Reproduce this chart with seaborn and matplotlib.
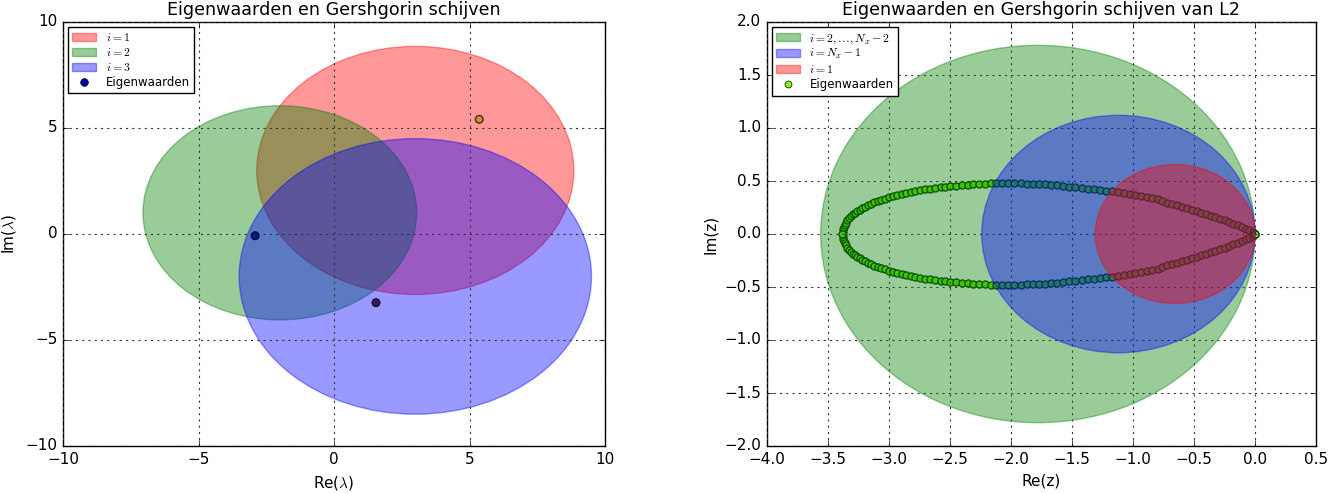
import numpy as np
import matplotlib
matplotlib.use("Agg")
import matplotlib.pyplot as plt
import seaborn as sns
from matplotlib.patches import Circle, Patch
from matplotlib.lines import Line2D

plt.style.use("classic")

# ---------------- data: left panel ----------------
disc_labels_1 = [r"$i=1$", r"$i=2$", r"$i=3$"]
disc_centers_re_1 = [3.0, -2.0, 3.0]
disc_centers_im_1 = [3.0, 1.0, -2.0]
disc_radii_1 = [5.85, 5.05, 6.5]
disc_colors_1 = ["red", "green", "blue"]

eig_re_1 = [-2.91, 1.55, 5.36]
eig_im_1 = [-0.08, -3.24, 5.41]
eig_face_1 = ["#0c1a80", "#3a1660", "#b09a40"]
eig_edge_1 = ["#050a40", "#150830", "#6a1a10"]

# ---------------- data: right panel ----------------
disc_labels_2 = [r"$i=2,\ldots,N_x-2$", r"$i=N_x-1$", r"$i=1$"]
disc_centers_re_2 = [-1.78, -1.12, -0.655]
disc_radii_2 = [1.78, 1.12, 0.655]
disc_colors_2 = ["green", "blue", "red"]

eig_re_upper = [-3.380, -3.377, -3.372, -3.363, -3.352, -3.342, -3.328, -3.314, -3.298, -3.279,
                -3.260, -3.240, -3.219, -3.197, -3.172, -3.148, -3.120, -3.093, -3.063, -3.033,
                -3.000, -2.967, -2.932, -2.896, -2.861, -2.822, -2.784, -2.743, -2.702, -2.661,
                -2.620, -2.576,
                -2.541, -2.497, -2.450, -2.403, -2.356, -2.309, -2.262, -2.215, -2.168, -2.122,
                -2.072, -2.022, -1.972, -1.920, -1.870, -1.820, -1.771, -1.721, -1.671,
                -1.624, -1.574, -1.525, -1.473, -1.420, -1.371, -1.319, -1.269, -1.220, -1.173,
                -1.124, -1.074, -1.027, -0.981, -0.934, -0.887, -0.841, -0.799,
                -0.760, -0.719, -0.678, -0.637, -0.596, -0.555, -0.516, -0.478, -0.440, -0.402,
                -0.363, -0.325, -0.287, -0.249, -0.213, -0.178, -0.142, -0.109, -0.077, -0.047,
                -0.019]
eig_im_upper = [0.019, 0.043, 0.065, 0.086, 0.108, 0.130, 0.148, 0.167, 0.185, 0.201,
                0.216, 0.231, 0.247, 0.259, 0.275, 0.287, 0.299, 0.312, 0.324, 0.333,
                0.346, 0.355, 0.367, 0.377, 0.386, 0.395, 0.404, 0.414, 0.420, 0.426,
                0.435, 0.444,
                0.444, 0.451, 0.454, 0.460, 0.463, 0.469, 0.472, 0.475, 0.478, 0.478,
                0.478, 0.478, 0.478, 0.478, 0.475, 0.475, 0.472, 0.469, 0.463,
                0.460, 0.454, 0.448, 0.441, 0.435, 0.429, 0.423, 0.417, 0.410, 0.401,
                0.395, 0.386, 0.377, 0.367, 0.358, 0.349, 0.340, 0.330,
                0.312, 0.297, 0.283, 0.270, 0.256, 0.243, 0.230, 0.217, 0.201, 0.188,
                0.172, 0.159, 0.144, 0.128, 0.113, 0.097, 0.081, 0.066, 0.050, 0.038,
                0.022]
eig_re_real = [-3.382, -0.006, -0.002, 0.0]
eig_im_real = [0.0, 0.0, 0.0, 0.0]

# complex-conjugate pairs: lower branch mirrors the upper one
eig_re_2 = np.concatenate([eig_re_upper, eig_re_upper, eig_re_real])
eig_im_2 = np.concatenate([eig_im_upper, -np.array(eig_im_upper), eig_im_real])

# ---------------- figure ----------------
fig = plt.figure(figsize=(13.43, 4.93), dpi=100, facecolor="white")
ax1 = fig.add_axes([63 / 1343, 1 - 446 / 493, (605 - 63) / 1343, (446 - 22) / 493])
ax2 = fig.add_axes([767 / 1343, 1 - 446 / 493, (1316 - 767) / 1343, (446 - 22) / 493])

tick_fs = 11
title_fs = 12.6
label_fs = 11
leg_fs = 8.5

# left panel
handles1 = []
for lab, cr, ci, r, col in zip(disc_labels_1, disc_centers_re_1, disc_centers_im_1,
                               disc_radii_1, disc_colors_1):
    c = Circle((cr, ci), r, facecolor=col, edgecolor=col, alpha=0.4, lw=1.0, zorder=2)
    ax1.add_patch(c)
    handles1.append(Patch(facecolor=col, edgecolor=col, alpha=0.4, label=lab))

sns.scatterplot(x=eig_re_1, y=eig_im_1, hue=[str(i) for i in range(3)],
                palette=dict(zip([str(i) for i in range(3)], eig_face_1)),
                edgecolor=eig_edge_1, linewidth=1.0, s=30, legend=False, ax=ax1, zorder=3)
handles1.append(Line2D([], [], ls="none", marker="o", markersize=5.5,
                       markerfacecolor="#0000a0", markeredgecolor="black",
                       label="Eigenwaarden"))

ax1.set_xlim(-10, 10)
ax1.set_ylim(-10, 10)
ax1.set_xticks([-10, -5, 0, 5, 10])
ax1.set_yticks([-10, -5, 0, 5, 10])
ax1.grid(True, color="#333333", linestyle=(0, (1.5, 3)), linewidth=0.8)
ax1.set_axisbelow(False)
ax1.set_title("Eigenwaarden en Gershgorin schijven", fontsize=title_fs)
ax1.set_xlabel(r"Re($\lambda$)", fontsize=label_fs)
ax1.set_ylabel(r"Im($\lambda$)", fontsize=label_fs)
ax1.tick_params(labelsize=tick_fs)
ax1.legend(handles=handles1, loc="upper left", fontsize=leg_fs, scatterpoints=1,
           numpoints=1, fancybox=False, framealpha=1, borderaxespad=0.4,
           handlelength=2.0, labelspacing=0.15)

# right panel
handles2 = []
for lab, cr, r, col in zip(disc_labels_2, disc_centers_re_2, disc_radii_2, disc_colors_2):
    c = Circle((cr, 0.0), r, facecolor=col, edgecolor=col, alpha=0.4, lw=1.0, zorder=3)
    ax2.add_patch(c)
    handles2.append(Patch(facecolor=col, edgecolor=col, alpha=0.4, label=lab))

sns.scatterplot(x=eig_re_2, y=eig_im_2, color="#70ee00", edgecolor="#063000",
                linewidth=0.9, s=26, legend=False, ax=ax2, zorder=2)
handles2.append(Line2D([], [], ls="none", marker="o", markersize=5,
                       markerfacecolor="#7fff00", markeredgecolor="black",
                       label="Eigenwaarden"))

ax2.set_xlim(-4.0, 0.5)
ax2.set_ylim(-2.0, 2.0)
ax2.set_xticks(np.arange(-4.0, 0.51, 0.5))
ax2.set_yticks(np.arange(-2.0, 2.01, 0.5))
ax2.grid(True, color="#333333", linestyle=(0, (1.5, 3)), linewidth=0.8)
ax2.set_axisbelow(False)
ax2.set_title("Eigenwaarden en Gershgorin schijven van L2", fontsize=title_fs)
ax2.set_xlabel("Re(z)", fontsize=label_fs)
ax2.set_ylabel("Im(z)", fontsize=label_fs)
ax2.tick_params(labelsize=tick_fs)
ax2.legend(handles=handles2, loc="upper left", fontsize=leg_fs, scatterpoints=1,
           numpoints=1, fancybox=False, framealpha=1, borderaxespad=0.4,
           handlelength=2.0, labelspacing=0.15)

fig.savefig("out.png", dpi=100, facecolor="white")
